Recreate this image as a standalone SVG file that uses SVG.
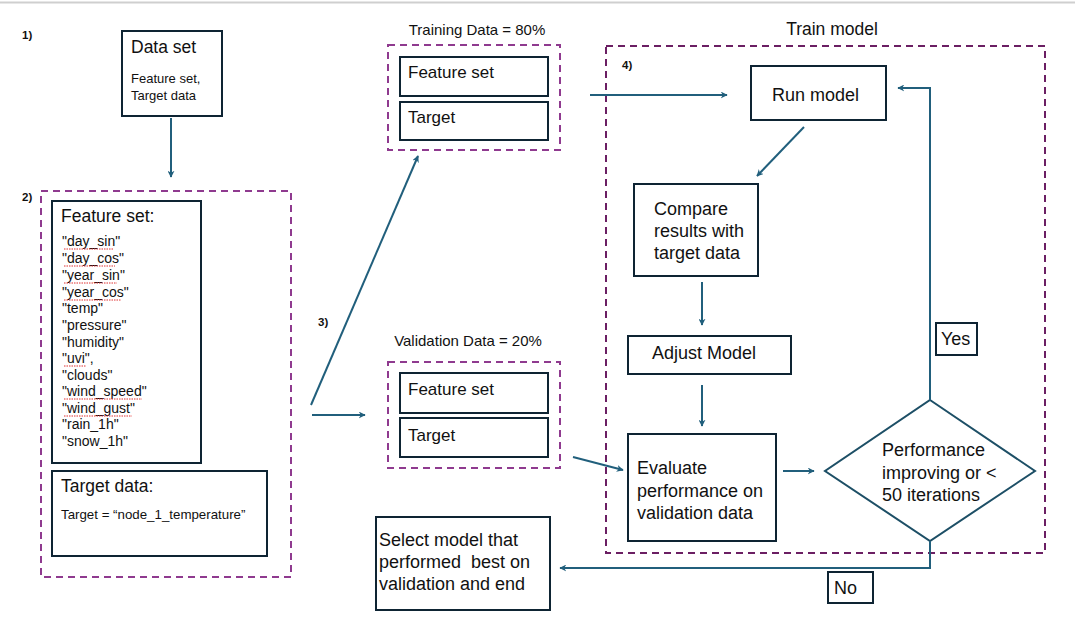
<svg xmlns="http://www.w3.org/2000/svg" width="1075" height="627" viewBox="0 0 1075 627">
<defs>
<marker id="ah" viewBox="0 0 10 10" refX="9" refY="5" markerWidth="7" markerHeight="7" markerUnits="userSpaceOnUse" orient="auto">
<path d="M0,0 L10,5 L0,10 L3,5 Z" fill="#215f7c"/>
</marker>
</defs>
<style>
.box{fill:#fff;stroke:#0e2433;stroke-width:2}
.dash{fill:none;stroke:#8f3a8f;stroke-width:2;stroke-dasharray:7 5}
.dash2{fill:none;stroke:#6b1f63;stroke-width:2;stroke-dasharray:7 5}
.con{fill:none;stroke:#215f7c;stroke-width:2;marker-end:url(#ah)}
.line{fill:none;stroke:#215f7c;stroke-width:2}
text{font-family:"Liberation Sans",Arial,sans-serif;fill:#111}
.num{font-size:11.5px;font-weight:bold}
.t18{font-size:18px}
.t17{font-size:17.5px}
.t14{font-size:14px}
.t13{font-size:13px}
.t15{font-size:15px}
.sp{stroke:#e03030;stroke-width:1;stroke-dasharray:1.5 1;fill:none}
</style>
<rect width="1075" height="627" fill="#fff"/>
<line x1="0" y1="2.5" x2="1075" y2="2.5" stroke="#cfcfcf" stroke-width="2"/>

<text class="num" x="22" y="39">1)</text>
<text class="num" x="22" y="201">2)</text>
<text class="num" x="318" y="326">3)</text>
<text class="num" x="622" y="69">4)</text>

<g id="dataset">
<rect class="box" x="122" y="31" width="100" height="85"/>
<text class="t17" x="131" y="53">Data set</text>
<text class="t13" x="131" y="83">Feature set,</text>
<text class="t13" x="131" y="100">Target data</text>
</g>

<g id="group2">
<rect class="dash" x="41" y="191" width="250" height="386"/>
</g>

<g id="featureset">
<rect class="box" x="52" y="201" width="149" height="262"/>
<text class="t17" x="61" y="222">Feature set:</text>
<g class="t14">
<text x="62" y="246">"day_sin"</text>
<text x="62" y="263">"day_cos"</text>
<text x="62" y="280">"year_sin"</text>
<text x="62" y="297">"year_cos"</text>
<text x="62" y="313">"temp"</text>
<text x="62" y="330">"pressure"</text>
<text x="62" y="347">"humidity"</text>
<text x="62" y="363">"uvi",</text>
<text x="62" y="380">"clouds"</text>
<text x="62" y="396">"wind_speed"</text>
<text x="62" y="413">"wind_gust"</text>
<text x="62" y="429">"rain_1h"</text>
<text x="62" y="446">"snow_1h"</text>
</g>
<path class="sp" d="M64,249 H113 M64,266 H115 M64,283 H117 M64,300 H121 M64,366 H86 M64,399 H142 M64,416 H132"/>
</g>

<g id="targetdata">
<rect class="box" x="52" y="471" width="215" height="85"/>
<text class="t17" x="61" y="492">Target data:</text>
<text x="61" y="519" style="font-size:13.3px">Target = “node_1_temperature”</text>
</g>

<g id="training">
<text class="t15" x="477" y="35" text-anchor="middle">Training Data = 80%</text>
<rect class="dash" x="388" y="45" width="172" height="105"/>
<rect class="box" x="400" y="57" width="148" height="39"/>
<text x="408" y="78" style="font-size:17px">Feature set</text>
<rect class="box" x="400" y="102" width="148" height="38"/>
<text x="408" y="123" style="font-size:17px">Target</text>
</g>

<g id="validation">
<text class="t15" x="468" y="346" text-anchor="middle">Validation Data = 20%</text>
<rect class="dash" x="388" y="362" width="172" height="106"/>
<rect class="box" x="400" y="373" width="148" height="40"/>
<text x="408" y="395" style="font-size:17px">Feature set</text>
<rect class="box" x="400" y="418" width="148" height="39"/>
<text x="408" y="441" style="font-size:17px">Target</text>
</g>

<g id="trainmodel">
<text class="t17" x="832" y="35" text-anchor="middle">Train model</text>
<rect class="dash2" x="606" y="46" width="439" height="507"/>
</g>

<g id="runmodel">
<rect class="box" x="751" y="66" width="135" height="54"/>
<text class="t18" x="772" y="101">Run model</text>
</g>

<g id="compare">
<rect class="box" x="634" y="184" width="124" height="92"/>
<text class="t18" x="654" y="215">Compare</text>
<text class="t18" x="654" y="237">results with</text>
<text class="t18" x="654" y="259">target data</text>
</g>

<g id="adjust">
<rect class="box" x="628" y="336" width="163" height="38"/>
<text class="t18" x="652" y="359">Adjust Model</text>
</g>

<g id="evaluate">
<rect class="box" x="628" y="434" width="148" height="107"/>
<text class="t18" x="637" y="474">Evaluate</text>
<text class="t18" x="637" y="497">performance on</text>
<text class="t18" x="637" y="519">validation data</text>
</g>

<g id="decision">
<polygon points="930,400 1035,471 930,541 825,471" fill="#fff" stroke="#1d4f66" stroke-width="2"/>
<text class="t18" x="882" y="456">Performance</text>
<text class="t18" x="882" y="479">improving or &lt;</text>
<text class="t18" x="882" y="501">50 iterations</text>
</g>

<g id="yes">
<rect class="box" x="936" y="323" width="41" height="32"/>
<text class="t18" x="941" y="345">Yes</text>
</g>

<g id="no">
<rect class="box" x="828" y="572" width="45" height="31"/>
<text class="t18" x="834" y="594">No</text>
</g>

<g id="select">
<rect class="box" x="376" y="517" width="174" height="93"/>
<text class="t18" x="379" y="546">Select model that</text>
<text class="t18" x="379" y="568" style="white-space:pre">performed  best on</text>
<text class="t18" x="379" y="590">validation and end</text>
</g>

<g id="connectors">
<line class="con" x1="171" y1="118" x2="171" y2="177"/>
<line class="con" x1="311" y1="405" x2="418" y2="156"/>
<line class="con" x1="312" y1="415" x2="365" y2="415"/>
<line class="con" x1="590" y1="95" x2="727" y2="95"/>
<line class="con" x1="804" y1="127" x2="757" y2="176"/>
<line class="con" x1="702" y1="282" x2="702" y2="325"/>
<line class="con" x1="702" y1="385" x2="702" y2="426"/>
<line class="con" x1="573" y1="457" x2="623" y2="470"/>
<line class="con" x1="783" y1="471" x2="814" y2="471"/>
<polyline class="con" points="930,400 930,88 898,88"/>
<polyline class="con" points="930,541 930,568 560,568"/>
</g>
</svg>
